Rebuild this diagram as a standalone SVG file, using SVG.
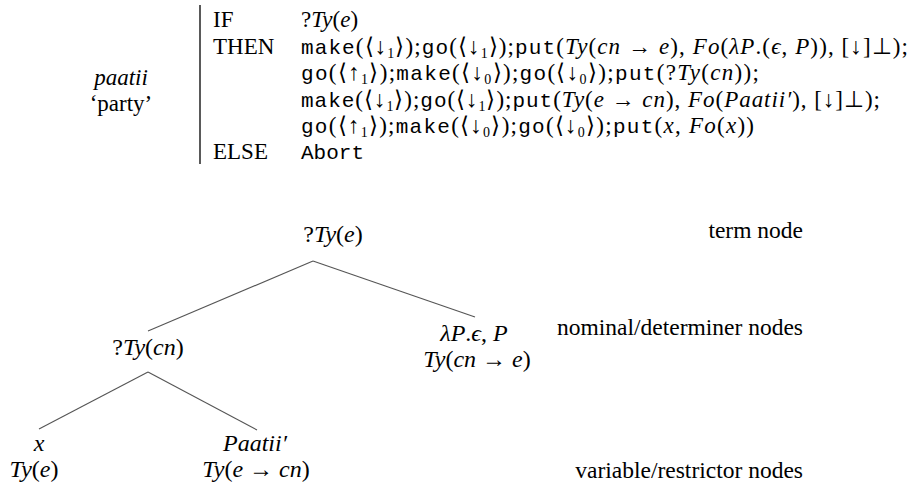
<svg xmlns="http://www.w3.org/2000/svg" width="914" height="484" viewBox="0 0 914 484">
<style>
text{font-family:"Liberation Serif","Times New Roman",serif;font-size:23px;fill:#000}
.it{font-style:italic}
.tt{font-family:"Liberation Mono","Courier New",monospace;font-size:21px}
.sub{font-size:14px}
.tree{font-size:24px}
.lbl{font-size:23.5px}
.edge{stroke:#555;stroke-width:1.1;fill:none}
.bar{stroke:#000;stroke-width:1.3}
</style>
<g id="lexical-entry">
<line class="bar" x1="200" y1="5" x2="200" y2="164"/>
<text x="121" y="85" text-anchor="middle" class="it">paatii</text>
<text x="121" y="111" text-anchor="middle">‘party’</text>
<text x="213" y="27">IF</text>
<text x="213" y="53.5">THEN</text>
<text x="213" y="159">ELSE</text>
<text x="301" y="27">?<tspan class="it">Ty</tspan>(<tspan class="it">e</tspan>)</text>
<text x="301" y="53.5" textLength="607"><tspan class="tt">make</tspan>(⟨↓<tspan class="sub" dy="4">1</tspan><tspan dy="-4">⟩);</tspan><tspan class="tt">go</tspan>(⟨↓<tspan class="sub" dy="4">1</tspan><tspan dy="-4">⟩);</tspan><tspan class="tt">put</tspan>(<tspan class="it">Ty</tspan>(<tspan class="it">cn</tspan> → <tspan class="it">e</tspan>), <tspan class="it">Fo</tspan>(<tspan class="it">λP</tspan>.(<tspan class="it">ϵ</tspan>, <tspan class="it">P</tspan>)), [↓]⊥);</text>
<text x="301" y="80" textLength="458"><tspan class="tt">go</tspan>(⟨↑<tspan class="sub" dy="4">1</tspan><tspan dy="-4">⟩);</tspan><tspan class="tt">make</tspan>(⟨↓<tspan class="sub" dy="4">0</tspan><tspan dy="-4">⟩);</tspan><tspan class="tt">go</tspan>(⟨↓<tspan class="sub" dy="4">0</tspan><tspan dy="-4">⟩);</tspan><tspan class="tt">put</tspan>(?<tspan class="it">Ty</tspan>(<tspan class="it">cn</tspan>));</text>
<text x="301" y="106.5" textLength="579"><tspan class="tt">make</tspan>(⟨↓<tspan class="sub" dy="4">1</tspan><tspan dy="-4">⟩);</tspan><tspan class="tt">go</tspan>(⟨↓<tspan class="sub" dy="4">1</tspan><tspan dy="-4">⟩);</tspan><tspan class="tt">put</tspan>(<tspan class="it">Ty</tspan>(<tspan class="it">e</tspan> → <tspan class="it">cn</tspan>), <tspan class="it">Fo</tspan>(<tspan class="it">Paatii′</tspan>), [↓]⊥);</text>
<text x="301" y="133" textLength="453"><tspan class="tt">go</tspan>(⟨↑<tspan class="sub" dy="4">1</tspan><tspan dy="-4">⟩);</tspan><tspan class="tt">make</tspan>(⟨↓<tspan class="sub" dy="4">0</tspan><tspan dy="-4">⟩);</tspan><tspan class="tt">go</tspan>(⟨↓<tspan class="sub" dy="4">0</tspan><tspan dy="-4">⟩);</tspan><tspan class="tt">put</tspan>(<tspan class="it">x</tspan>, <tspan class="it">Fo</tspan>(<tspan class="it">x</tspan>))</text>
<text x="301" y="159" class="tt">Abort</text>
</g>
<g id="connectors">
<line class="edge" x1="313" y1="261" x2="148" y2="331"/>
<line class="edge" x1="313" y1="261" x2="475" y2="317"/>
<line class="edge" x1="148" y1="372" x2="39" y2="429"/>
<line class="edge" x1="148" y1="372" x2="257" y2="430"/>
</g>
<g id="node-root">
<text x="333" y="242" text-anchor="middle" class="tree">?<tspan class="it">Ty</tspan>(<tspan class="it">e</tspan>)</text>
</g>
<g id="node-cn">
<text x="148" y="355" text-anchor="middle" class="tree">?<tspan class="it">Ty</tspan>(<tspan class="it">cn</tspan>)</text>
</g>
<g id="node-det">
<text x="474" y="341" text-anchor="middle" class="tree"><tspan class="it">λP</tspan>.<tspan class="it">ϵ</tspan>, <tspan class="it">P</tspan></text>
<text x="477" y="367" text-anchor="middle" class="tree"><tspan class="it">Ty</tspan>(<tspan class="it">cn</tspan> → <tspan class="it">e</tspan>)</text>
</g>
<g id="node-var">
<text x="39" y="451" text-anchor="middle" class="tree it">x</text>
<text x="34" y="477" text-anchor="middle" class="tree"><tspan class="it">Ty</tspan>(<tspan class="it">e</tspan>)</text>
</g>
<g id="node-restr">
<text x="255" y="451" text-anchor="middle" class="tree it">Paatii′</text>
<text x="256" y="477" text-anchor="middle" class="tree"><tspan class="it">Ty</tspan>(<tspan class="it">e</tspan> → <tspan class="it">cn</tspan>)</text>
</g>
<g id="level-labels">
<text x="803" y="238" text-anchor="end" class="lbl">term node</text>
<text x="803" y="335" text-anchor="end" class="lbl">nominal/determiner nodes</text>
<text x="803" y="478" text-anchor="end" class="lbl">variable/restrictor nodes</text>
</g>
</svg>
